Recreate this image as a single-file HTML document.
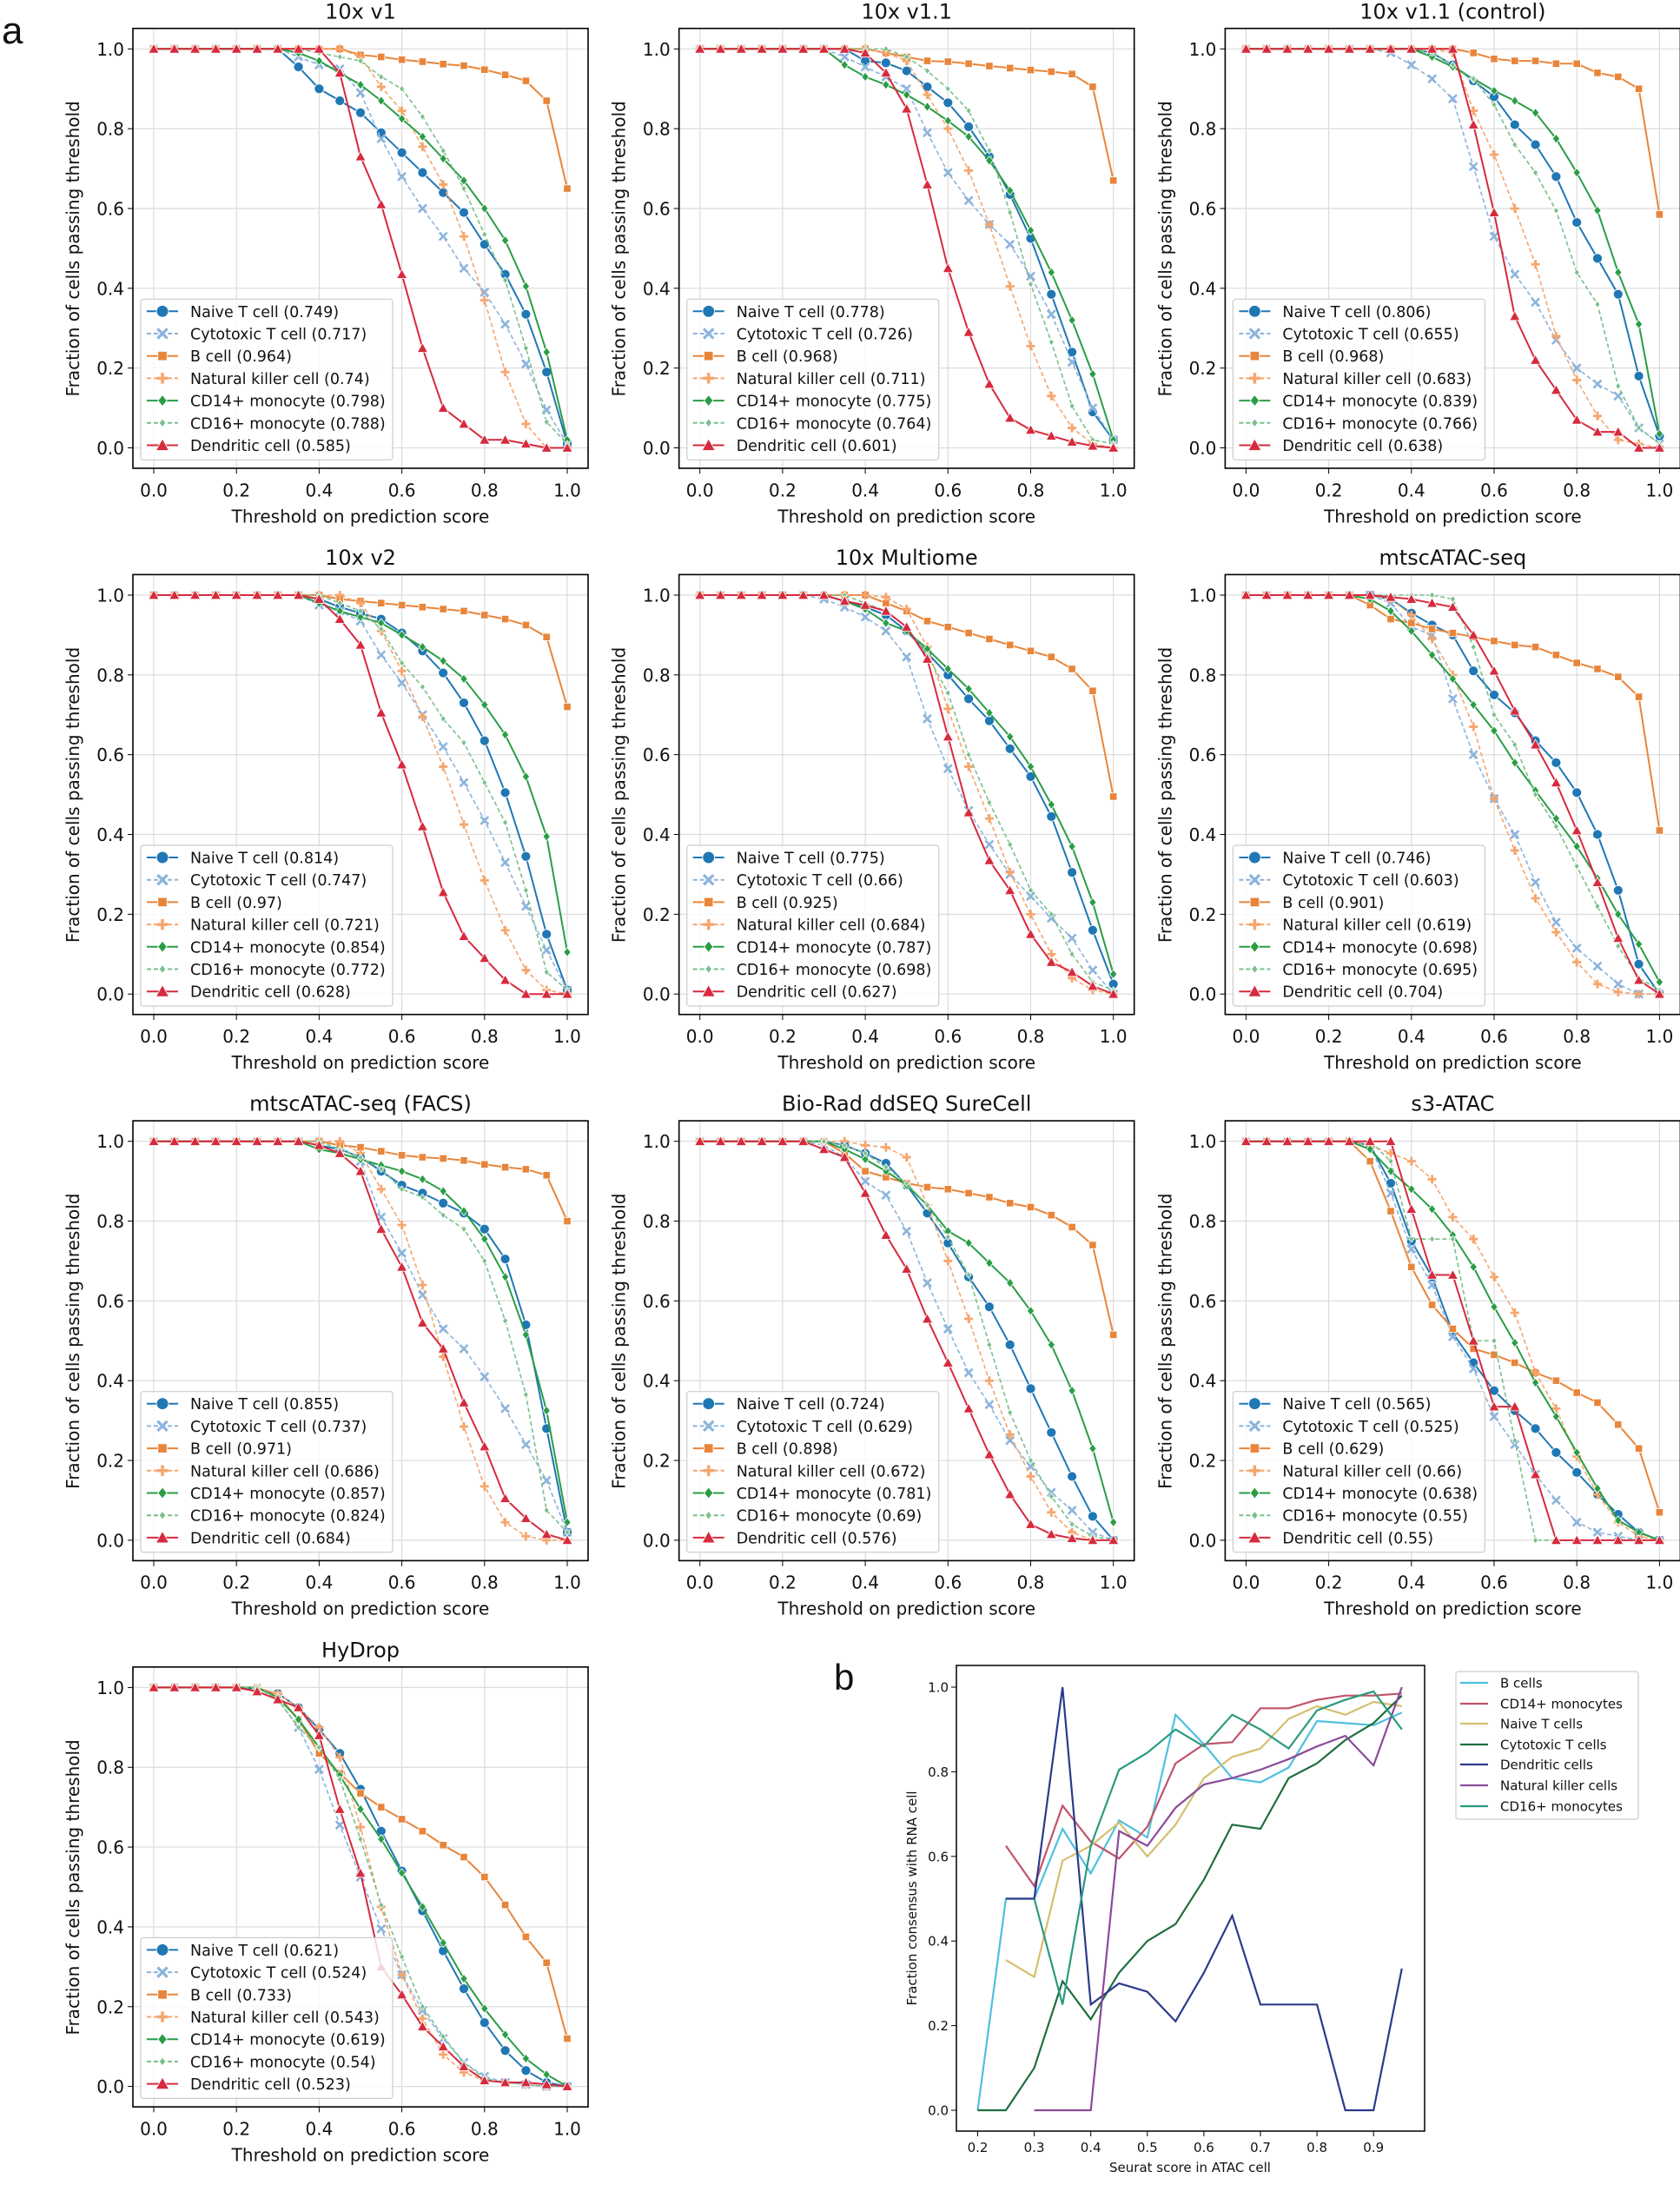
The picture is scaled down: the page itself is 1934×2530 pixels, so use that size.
<!DOCTYPE html>
<html><head><meta charset="utf-8">
<style>
html,body{margin:0;padding:0;background:#fff;}
svg{display:block;font-family:"DejaVu Sans","Liberation Sans",sans-serif;}
</style></head>
<body>
<svg id="s" width="1934" height="2530" viewBox="0 0 1934 2530" xmlns="http://www.w3.org/2000/svg">
<text x="2" y="50" font-size="44" fill="#111" font-family="Liberation Sans, sans-serif">a</text>
<text x="960" y="1945" font-size="42" fill="#111" font-family="Liberation Sans, sans-serif">b</text>
</svg>
<script>
const S=document.getElementById('s');
let out='';
const COL=['#1f77b4','#8cb4dc','#e8853a','#f5a66f','#2a9d45','#7bbf8a','#d62a3e'];
const NAMES=['Naive T cell','Cytotoxic T cell','B cell','Natural killer cell','CD14+ monocyte','CD16+ monocyte','Dendritic cell'];
const DASH=[false,true,false,true,false,true,false];
const MK=['o','x','s','p','d','sd','t'];
function arr(k,vals){const a=[];for(let i=0;i<21;i++)a.push(i<k?1:vals[i-k]);return a;}
const P=[
{t:'10x v1',sc:[.749,.717,.964,.74,.798,.788,.585],d:[
arr(7,[.955,.90,.87,.84,.79,.74,.69,.64,.59,.51,.435,.335,.19,.01]),
arr(7,[.98,.96,.95,.89,.775,.68,.60,.53,.45,.39,.31,.21,.095,.01]),
arr(10,[.985,.98,.973,.968,.962,.958,.948,.935,.92,.87,.65]),
arr(10,[.98,.905,.845,.755,.66,.53,.37,.19,.06,0,0]),
arr(7,[.99,.97,.94,.91,.87,.825,.78,.725,.67,.60,.52,.405,.24,.02]),
arr(8,[.99,.98,.97,.93,.90,.83,.745,.65,.535,.42,.25,.065,.01]),
arr(9,[.94,.73,.61,.435,.25,.10,.06,.02,.02,.01,0,0])]},
{t:'10x v1.1',sc:[.778,.726,.968,.711,.775,.764,.601],d:[
arr(8,[.97,.965,.945,.905,.865,.805,.73,.635,.525,.385,.24,.09,.02]),
arr(7,[.98,.955,.93,.9,.79,.69,.62,.56,.51,.43,.335,.215,.1,.02]),
arr(9,[.99,.98,.97,.968,.963,.957,.952,.947,.943,.937,.905,.67]),
arr(9,[.99,.97,.885,.8,.695,.56,.405,.255,.13,.05,.01,0]),
arr(7,[.96,.93,.91,.885,.855,.82,.78,.72,.645,.545,.44,.32,.185,.02]),
arr(10,[.98,.945,.9,.845,.745,.59,.41,.265,.105,.02,.01]),
arr(8,[.99,.94,.85,.66,.45,.29,.16,.075,.045,.03,.015,.005,0])]},
{t:'10x v1.1 (control)',sc:[.806,.655,.968,.683,.839,.766,.638],d:[
arr(9,[.99,.96,.92,.88,.81,.76,.68,.565,.475,.385,.18,.03]),
arr(7,[.99,.96,.925,.875,.705,.53,.435,.365,.27,.2,.16,.13,.05,.01]),
arr(11,[.99,.975,.97,.97,.963,.963,.94,.93,.9,.585]),
arr(10,[.99,.845,.735,.6,.46,.28,.17,.08,.02,.01,0]),
arr(9,[.98,.955,.925,.895,.87,.84,.775,.69,.595,.44,.31,.035]),
arr(9,[.99,.96,.925,.86,.76,.69,.595,.44,.36,.155,.05,.01]),
arr(11,[.81,.59,.33,.22,.145,.07,.04,.04,0,0])]},
{t:'10x v2',sc:[.814,.747,.97,.721,.854,.772,.628],d:[
arr(8,[.99,.97,.955,.94,.905,.86,.805,.73,.635,.505,.345,.15,.01]),
arr(8,[.975,.96,.935,.85,.78,.7,.62,.53,.435,.33,.22,.11,.01]),
arr(9,[.99,.985,.98,.975,.97,.965,.96,.95,.94,.925,.895,.72]),
arr(10,[.98,.91,.81,.695,.57,.425,.285,.16,.06,.01,0]),
arr(8,[.98,.96,.945,.93,.9,.87,.835,.79,.725,.65,.545,.395,.105]),
arr(9,[.98,.96,.915,.83,.77,.69,.63,.53,.43,.26,.055,.01]),
arr(8,[.99,.94,.875,.705,.575,.42,.255,.145,.09,.035,0,0,0])]},
{t:'10x Multiome',sc:[.775,.66,.925,.684,.787,.698,.627],d:[
arr(7,[.985,.97,.95,.91,.855,.8,.74,.685,.615,.545,.445,.305,.16,.025]),
arr(6,[.99,.97,.945,.91,.845,.69,.565,.46,.375,.3,.245,.19,.14,.06,0]),
arr(9,[.98,.96,.935,.92,.905,.89,.875,.86,.845,.815,.76,.495]),
arr(9,[.995,.965,.87,.715,.57,.44,.305,.2,.1,.04,.01,0]),
arr(7,[.985,.965,.93,.91,.865,.815,.765,.705,.645,.57,.475,.37,.23,.05]),
arr(8,[.98,.96,.92,.85,.755,.6,.48,.375,.26,.2,.1,.03,.01]),
arr(7,[.985,.975,.96,.92,.84,.645,.455,.335,.26,.15,.08,.055,.02,0])]},
{t:'mtscATAC-seq',sc:[.746,.603,.901,.619,.698,.695,.704],d:[
arr(7,[.99,.955,.925,.9,.81,.75,.705,.635,.58,.505,.4,.26,.075,0]),
arr(7,[.98,.92,.9,.74,.6,.49,.4,.28,.18,.115,.07,.025,0,0]),
arr(6,[.975,.94,.93,.915,.905,.895,.885,.875,.87,.85,.83,.815,.795,.745,.41]),
arr(7,[.99,.95,.89,.8,.67,.49,.36,.24,.155,.08,.025,.005,0,0]),
arr(6,[.99,.96,.91,.85,.79,.725,.66,.58,.51,.44,.37,.29,.2,.125,.03]),
arr(10,[.99,.87,.7,.625,.5,.42,.32,.22,.12,.04,.01]),
arr(7,[.995,.99,.98,.97,.9,.81,.71,.625,.53,.41,.28,.14,.035,0])]},
{t:'mtscATAC-seq (FACS)',sc:[.855,.737,.971,.686,.857,.824,.684],d:[
arr(8,[.99,.98,.96,.925,.89,.87,.845,.82,.78,.705,.54,.28,.02]),
arr(9,[.99,.95,.81,.72,.615,.53,.48,.41,.33,.24,.15,.02]),
arr(9,[.99,.985,.975,.965,.96,.957,.952,.942,.935,.93,.915,.8]),
arr(10,[.97,.88,.79,.64,.46,.285,.135,.045,.01,0,0]),
arr(8,[.98,.97,.955,.94,.925,.905,.875,.825,.755,.66,.515,.325,.045]),
arr(9,[.98,.96,.93,.88,.86,.815,.78,.7,.55,.365,.075,.02]),
arr(8,[.99,.97,.925,.78,.685,.545,.48,.345,.235,.105,.055,.015,0])]},
{t:'Bio-Rad ddSEQ SureCell',sc:[.724,.629,.898,.672,.781,.69,.576],d:[
arr(7,[.99,.97,.945,.89,.82,.745,.66,.585,.49,.38,.27,.16,.06,0]),
arr(6,[.99,.96,.9,.865,.775,.645,.53,.42,.34,.25,.185,.12,.075,.02,0]),
arr(7,[.97,.925,.91,.895,.885,.88,.87,.86,.845,.835,.815,.785,.74,.515]),
arr(8,[.99,.985,.96,.84,.7,.555,.4,.265,.16,.07,.02,0,0]),
arr(7,[.98,.955,.925,.89,.84,.775,.745,.695,.645,.575,.49,.375,.23,.045]),
arr(7,[.99,.97,.935,.895,.84,.76,.665,.49,.32,.2,.11,.04,.01,0]),
arr(6,[.98,.96,.87,.765,.68,.555,.445,.33,.215,.115,.04,.015,.005,0,0])]},
{t:'s3-ATAC',sc:[.565,.525,.629,.66,.638,.55,.55],d:[
arr(6,[.99,.895,.75,.66,.52,.445,.375,.325,.28,.22,.17,.115,.065,.02,0]),
arr(6,[.99,.87,.73,.64,.51,.43,.31,.24,.165,.1,.045,.02,.01,0,0]),
arr(6,[.95,.825,.685,.59,.53,.48,.465,.445,.42,.4,.37,.345,.29,.23,.07]),
arr(6,[.99,.97,.95,.905,.81,.755,.66,.57,.42,.33,.21,.115,.045,.01,0]),
arr(6,[.98,.925,.88,.83,.765,.685,.585,.495,.395,.31,.22,.13,.05,.02,0]),
arr(7,[.95,.755,.755,.755,.5,.5,.25,0,0,0,0,0,0,0]),
arr(8,[.83,.665,.665,.5,.335,.335,.165,0,0,0,0,0,0])]},
{t:'HyDrop',sc:[.621,.524,.733,.543,.619,.54,.523],d:[
arr(5,[.995,.985,.95,.895,.835,.745,.64,.54,.44,.34,.245,.16,.09,.04,.01,0]),
arr(5,[.99,.97,.9,.795,.655,.525,.395,.28,.19,.12,.06,.025,.01,.005,0,0]),
arr(6,[.98,.92,.835,.785,.735,.7,.67,.64,.605,.575,.525,.455,.375,.31,.12]),
arr(6,[.985,.95,.9,.825,.65,.45,.28,.17,.08,.035,.015,.01,.005,0,0]),
arr(6,[.975,.92,.85,.78,.695,.62,.535,.45,.36,.27,.195,.13,.07,.03,0]),
arr(6,[.97,.9,.85,.77,.62,.455,.325,.2,.125,.06,.02,.01,.005,0,0]),
arr(5,[.99,.97,.95,.88,.695,.535,.3,.23,.15,.1,.05,.015,.01,.01,.005,0])]}
];
function marker(m,x,y,c,sz){
  sz=sz||1;
  const w='stroke="#fff" stroke-width="0.8"';
  if(m==='o')return `<circle cx="${x}" cy="${y}" r="${5.5*sz}" fill="${c}" ${w}/>`;
  if(m==='s'){const h=4.2*sz;return `<rect x="${x-h}" y="${y-h}" width="${2*h}" height="${2*h}" fill="${c}" ${w}/>`;}
  if(m==='t'){const h=6*sz;return `<polygon points="${x},${y-h} ${x+h},${y+h*0.8} ${x-h},${y+h*0.8}" fill="${c}" ${w}/>`;}
  if(m==='d'){const h=5.2*sz;return `<polygon points="${x},${y-h} ${x+h*0.8},${y} ${x},${y+h} ${x-h*0.8},${y}" fill="${c}" ${w}/>`;}
  if(m==='sd'){const h=3.8*sz;return `<polygon points="${x},${y-h} ${x+h*0.8},${y} ${x},${y+h} ${x-h*0.8},${y}" fill="${c}" ${w}/>`;}
  if(m==='x'){const h=4.5*sz;return `<path d="M${x-h} ${y-h}L${x+h} ${y+h}M${x-h} ${y+h}L${x+h} ${y-h}" stroke="${c}" stroke-width="${2.6*sz}"/>`;}
  if(m==='p'){const h=5*sz;return `<path d="M${x-h} ${y}L${x+h} ${y}M${x} ${y-h}L${x} ${y+h}" stroke="${c}" stroke-width="${2.8*sz}"/>`;}
}
P.forEach((p,idx)=>{
  const r=Math.floor(idx/3),c=idx%3;
  const ox=177+628.7*c, oy=56.3+628.7*r;
  const X=v=>ox+476*v, Y=v=>oy+459.2*(1-v);
  for(let i=0;i<=5;i++){const v=i*0.2;
    out+=`<line x1="${X(v)}" y1="${oy-23.6}" x2="${X(v)}" y2="${oy+482.7}" stroke="#dcdcdc" stroke-width="1.2"/>`;
    out+=`<line x1="${ox-24}" y1="${Y(v)}" x2="${ox+500}" y2="${Y(v)}" stroke="#dcdcdc" stroke-width="1.2"/>`;
    out+=`<line x1="${X(v)}" y1="${oy+482.7}" x2="${X(v)}" y2="${oy+489}" stroke="#000" stroke-width="1"/>`;
    out+=`<line x1="${ox-24}" y1="${Y(v)}" x2="${ox-30}" y2="${Y(v)}" stroke="#000" stroke-width="1"/>`;
    out+=`<text x="${X(v)}" y="${oy+515}" font-size="20" text-anchor="middle" fill="#111">${v.toFixed(1)}</text>`;
    out+=`<text x="${ox-34}" y="${Y(v)+7.5}" font-size="20" text-anchor="end" fill="#111">${v.toFixed(1)}</text>`;
  }
  out+=`<text x="${ox+238}" y="${oy+545}" font-size="20" text-anchor="middle" fill="#111">Threshold on prediction score</text>`;
  out+=`<text transform="translate(${ox-86},${oy+230}) rotate(-90)" font-size="20" text-anchor="middle" fill="#111">Fraction of cells passing threshold</text>`;
  out+=`<text x="${ox+238}" y="${oy-35}" font-size="24" text-anchor="middle" fill="#111">${p.t}</text>`;
  p.d.forEach((a,si)=>{
    const pts=a.map((v,i)=>`${X(i*0.05).toFixed(1)},${Y(v).toFixed(1)}`).join(' ');
    const dash=DASH[si]?'stroke-dasharray="5,3"':'';
    const sw=DASH[si]?1.6:2;
    out+=`<polyline points="${pts}" fill="none" stroke="${COL[si]}" stroke-width="${sw}" ${dash}/>`;
    a.forEach((v,i)=>{out+=marker(MK[si],X(i*0.05),Y(v),COL[si]);});
  });
  out+=`<rect x="${ox-24}" y="${oy-23.6}" width="524" height="506.3" fill="none" stroke="#000" stroke-width="1.6"/>`;
  out+=`<rect x="${ox-15}" y="${oy+288}" width="290" height="185" rx="3" fill="#fff" fill-opacity="0.8" stroke="#ccc" stroke-width="1.2"/>`;
  for(let k=0;k<7;k++){
    const ly=oy+302+25.7*k;
    const dash=DASH[k]?'stroke-dasharray="5,3"':'';
    out+=`<line x1="${ox-8}" y1="${ly}" x2="${ox+28}" y2="${ly}" stroke="${COL[k]}" stroke-width="2" ${dash}/>`;
    out+=marker(MK[k],ox+10,ly,COL[k],1.25);
    out+=`<text x="${ox+42}" y="${ly+6.5}" font-size="17.5" fill="#111">${NAMES[k]} (${p.sc[k]})</text>`;
  }
});
(function(){
  const X=v=>1125.5+(v-0.2)*651, Y=v=>2429-v*487;
  const B=[
   {n:'B cells',c:'#4ec0e0',s:0.2,d:[0,.5,.5,.665,.56,.685,.645,.935,.865,.785,.775,.81,.92,.915,.91,.94]},
   {n:'CD14+ monocytes',c:'#c0546a',s:0.25,d:[.625,.53,.72,.635,.595,.67,.82,.865,.87,.95,.95,.97,.98,.98,.985]},
   {n:'Naive T cells',c:'#d4bf6e',s:0.25,d:[.355,.315,.59,.625,.68,.6,.675,.785,.835,.855,.925,.955,.935,.965,.955]},
   {n:'Cytotoxic T cells',c:'#1f6e3e',s:0.2,d:[0,0,.1,.305,.215,.325,.4,.44,.545,.675,.665,.785,.82,.875,.915,.98]},
   {n:'Dendritic cells',c:'#2b3a8a',s:0.25,d:[.5,.5,1,.25,.3,.28,.21,.325,.46,.25,.25,.25,0,0,.335]},
   {n:'Natural killer cells',c:'#8b4a9a',s:0.3,d:[0,0,0,.66,.625,.715,.77,.785,.805,.83,.86,.885,.815,1]},
   {n:'CD16+ monocytes',c:'#2a9a80',s:0.3,d:[.5,.25,.625,.805,.845,.9,.86,.935,.9,.855,.945,.97,.99,.9]}
  ];
  B.forEach(b=>{
    const pts=b.d.map((v,i)=>`${X(b.s+i*0.05).toFixed(1)},${Y(v).toFixed(1)}`).join(' ');
    out+=`<polyline points="${pts}" fill="none" stroke="${b.c}" stroke-width="2.2"/>`;
  });
  out+=`<rect x="1101" y="1917" width="539" height="536" fill="none" stroke="#000" stroke-width="1.5"/>`;
  for(let i=0;i<=5;i++){const v=i*0.2;
    out+=`<line x1="1101" y1="${Y(v)}" x2="1095" y2="${Y(v)}" stroke="#000"/>`;
    out+=`<text x="1092" y="${Y(v)+5.5}" font-size="15" text-anchor="end" fill="#111">${v.toFixed(1)}</text>`;}
  for(let i=2;i<=9;i++){const v=i/10;
    out+=`<line x1="${X(v)}" y1="2453" x2="${X(v)}" y2="2459" stroke="#000"/>`;
    out+=`<text x="${X(v)}" y="2477" font-size="15" text-anchor="middle" fill="#111">${v.toFixed(1)}</text>`;}
  out+=`<text x="1370" y="2500" font-size="15" text-anchor="middle" fill="#111">Seurat score in ATAC cell</text>`;
  out+=`<text transform="translate(1055,2185) rotate(-90)" font-size="15" text-anchor="middle" fill="#111">Fraction consensus with RNA cell</text>`;
  out+=`<rect x="1676" y="1924" width="210" height="170" rx="3" fill="#fff" stroke="#ccc" stroke-width="1.2"/>`;
  const ys=[1937,1961,1984,2008,2031,2055,2079];
  B.forEach((b,k)=>{
    out+=`<line x1="1681" y1="${ys[k]}" x2="1713" y2="${ys[k]}" stroke="${b.c}" stroke-width="2.2"/>`;
    out+=`<text x="1727" y="${ys[k]+5.5}" font-size="15" fill="#111">${b.n}</text>`;
  });
})();
S.insertAdjacentHTML('beforeend',out);
</script>
</body></html>
